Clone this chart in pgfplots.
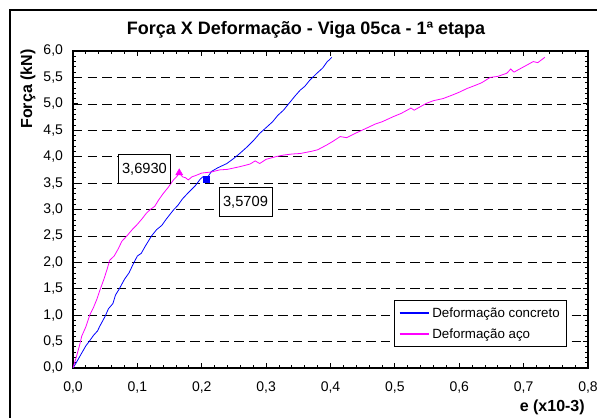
\documentclass[border=0pt]{standalone}
\usepackage{fontspec}
\setmainfont{Liberation Sans}
\usepackage{pgfplots}
\pgfplotsset{compat=1.18}

\definecolor{concreto}{RGB}{0,0,255}
\definecolor{aco}{RGB}{255,0,255}

\begin{document}
\begin{tikzpicture}
    \useasboundingbox (-54.75pt,-37.5pt) rectangle (393pt,276pt);
    % outer chart frame (right and bottom fall outside the picture)
    \draw[black, line width=0.8pt] (-47.25pt,-60pt) rectangle (420pt,268.5pt);

    \begin{axis}[
        scale only axis,
        width=386.25pt,
        height=237.75pt,
        xmin=0, xmax=0.8,
        ymin=0, ymax=6,
        xtick={0,0.1,...,0.8},
        ytick={0,0.5,...,6},
        minor x tick num=4,
        minor y tick num=4,
        tick align=inside,
        major tick length=4pt,
        minor tick length=2.5pt,
        tick style={black, line width=0.6pt},
        axis line style={black, line width=0.8pt},
        ymajorgrids,
        major grid style={black, line width=0.5pt, dash pattern=on 7pt off 4pt},
        /pgf/number format/.cd, use comma, fixed, fixed zerofill, precision=1,
        assume math mode=true,
        /pgfplots/.cd,
        ticklabel style={font=\fontsize{10.5pt}{12pt}\selectfont},
        xticklabel style={yshift=-7pt},
        yticklabel style={xshift=-4pt},
        legend style={
            at={(rel axis cs:0.959,0.066)}, anchor=south east,
            draw=black, fill=white, line width=0.6pt,
            font=\fontsize{10pt}{12pt}\selectfont,
            row sep=3pt, inner sep=3pt
        },
        legend cell align=left,
        legend image code/.code={\draw[#1, line width=1.2pt] (0pt,0pt) -- (22pt,0pt);},
    ]
    \addplot[concreto, line width=0.6pt] coordinates {
        (0,0) (0.005,0.1) (0.012,0.25) (0.02,0.42) (0.025,0.5) (0.032,0.62)
        (0.038,0.7) (0.042,0.8) (0.05,0.98) (0.055,1.12) (0.062,1.22)
        (0.066,1.38) (0.072,1.5) (0.08,1.68) (0.087,1.8) (0.094,1.98)
        (0.1,2.12) (0.106,2.17) (0.112,2.3) (0.118,2.42) (0.122,2.5)
        (0.13,2.62) (0.138,2.7) (0.145,2.82) (0.156,2.99) (0.163,3.08)
        (0.17,3.2) (0.18,3.33) (0.19,3.45) (0.198,3.58) (0.202,3.62)
        (0.207,3.5709) (0.215,3.72) (0.225,3.79) (0.239,3.87) (0.25,3.97)
        (0.259,4.06) (0.27,4.18) (0.28,4.3) (0.29,4.44) (0.3,4.55)
        (0.31,4.66) (0.318,4.78) (0.327,4.88) (0.335,5.0) (0.345,5.15)
        (0.353,5.26) (0.36,5.33) (0.368,5.45) (0.379,5.58) (0.388,5.68)
        (0.395,5.8) (0.398,5.83) (0.402,5.88)
    };
    \addlegendentry{Deformação concreto}
    \addplot[aco, line width=0.6pt] coordinates {
        (0,0) (0.005,0.2) (0.01,0.42) (0.0135,0.6) (0.02,0.78) (0.026,1.0)
        (0.032,1.15) (0.037,1.3) (0.042,1.48) (0.048,1.68) (0.053,1.87)
        (0.057,2.04) (0.064,2.12) (0.07,2.25) (0.076,2.4) (0.083,2.49)
        (0.092,2.62) (0.1,2.72) (0.107,2.82) (0.114,2.93) (0.12,3.0)
        (0.127,3.06) (0.133,3.18) (0.14,3.3) (0.148,3.42) (0.156,3.56)
        (0.161,3.62) (0.165,3.693) (0.17,3.62) (0.175,3.6) (0.179,3.56)
        (0.185,3.62) (0.19,3.64) (0.2,3.69) (0.215,3.71) (0.228,3.75)
        (0.24,3.76) (0.259,3.81) (0.275,3.86) (0.283,3.92) (0.29,3.87)
        (0.3,3.95) (0.315,4.0) (0.327,4.03) (0.34,4.05) (0.353,4.06)
        (0.37,4.1) (0.38,4.13) (0.394,4.22) (0.405,4.3) (0.415,4.38)
        (0.425,4.36) (0.44,4.45) (0.456,4.54) (0.47,4.62) (0.48,4.66)
        (0.498,4.76) (0.51,4.82) (0.525,4.92) (0.53,4.88) (0.549,5.01)
        (0.56,5.06) (0.575,5.1) (0.59,5.17) (0.6,5.22) (0.612,5.29)
        (0.625,5.35) (0.635,5.4) (0.648,5.5) (0.66,5.52) (0.674,5.58)
        (0.68,5.66) (0.685,5.6) (0.7,5.7) (0.715,5.8) (0.722,5.78)
        (0.733,5.88)
    };
    \addlegendentry{Deformação aço}
    % highlighted points
    \addplot[only marks, mark=triangle*, mark size=3pt, color=aco, forget plot]
        coordinates {(0.165,3.693)};
    \addplot[only marks, mark=square*, mark size=2.2pt, color=concreto, forget plot]
        coordinates {(0.207,3.5709)};

    \node[draw=black, fill=white, line width=0.6pt, font=\fontsize{11pt}{13pt}\selectfont,
          inner xsep=3pt, minimum height=22pt] at (axis cs:0.111,3.77) {3,6930};
    \node[draw=black, fill=white, line width=0.6pt, font=\fontsize{11pt}{13pt}\selectfont,
          inner xsep=3pt, minimum height=22pt] at (axis cs:0.268,3.14) {3,5709};
    \end{axis}

    \node[font=\bfseries\fontsize{13.5pt}{15pt}\selectfont] at (174.75pt,253.5pt)
        {Força X Deformação - Viga 05ca - 1ª etapa};
    \node[font=\bfseries\fontsize{12pt}{14pt}\selectfont, rotate=90] at (-33.75pt,209.25pt)
        {Força (kN)};
    \node[font=\bfseries\fontsize{12pt}{14pt}\selectfont, anchor=east, inner sep=0pt]
        at (384pt,-29.25pt) {e (x10-3)};
\end{tikzpicture}
\end{document}
